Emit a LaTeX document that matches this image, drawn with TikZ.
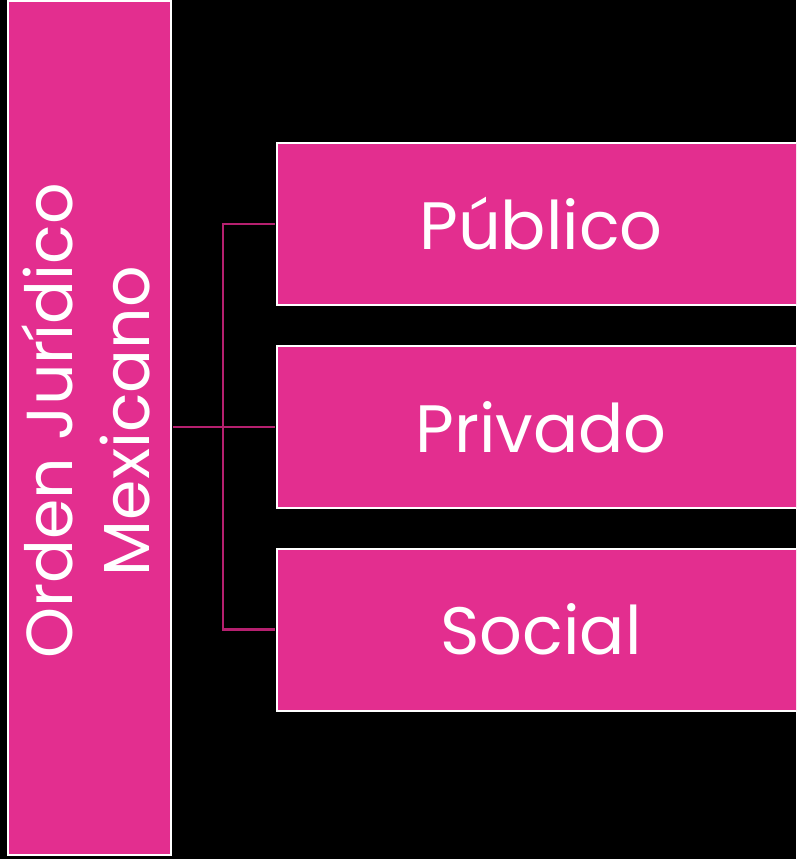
\documentclass[tikz,border=0pt]{standalone}
\usepackage{fontspec}
\setmainfont{Poppins}
\definecolor{boxpink}{HTML}{E32E8F}
\definecolor{linkpink}{HTML}{B5206F}
\begin{document}
\begin{tikzpicture}[x=1pt,y=1pt,
  pinkbox/.style={draw=white,line width=2pt,fill=boxpink,inner sep=0pt},
  link/.style={draw=linkpink,line width=2.2pt},
  lbl/.style={text=white,font=\fontsize{67}{70}\selectfont,align=center}]
\fill[black] (0,0) rectangle (796,-859);
\useasboundingbox (0,0) rectangle (796,-859);
\begin{scope}
\clip (0,0) rectangle (796,-859);
\node[pinkbox,minimum width=163pt,minimum height=854pt] (main) at (89.5,-428) {};
\node[pinkbox,minimum width=530pt,minimum height=162pt,anchor=west] (pub) at (276,-224) {};
\node[pinkbox,minimum width=530pt,minimum height=162pt,anchor=west] (priv) at (276,-427) {};
\node[pinkbox,minimum width=530pt,minimum height=162pt,anchor=west] (soc) at (276,-629.5) {};
\end{scope}
\node[lbl] (publbl) at (541,-224) {Público};
\node[lbl] (privlbl) at (541,-427) {Privado};
\node[lbl] (soclbl) at (541,-629.5) {Social};
\node[lbl,rotate=90,font=\fontsize{65}{77}\selectfont] (mainlbl) at (86,-421) {Orden Jurídico\\Mexicano};
\coordinate (jn) at (223,-427);
\draw[link] ([xshift=1pt]main.east |- jn) -- ([xshift=-1pt]priv.west);
\draw[link] ([xshift=-1pt]pub.west) -| (jn);
\draw[link] ([xshift=-1pt]soc.west) -| (jn);
\end{tikzpicture}
\end{document}
